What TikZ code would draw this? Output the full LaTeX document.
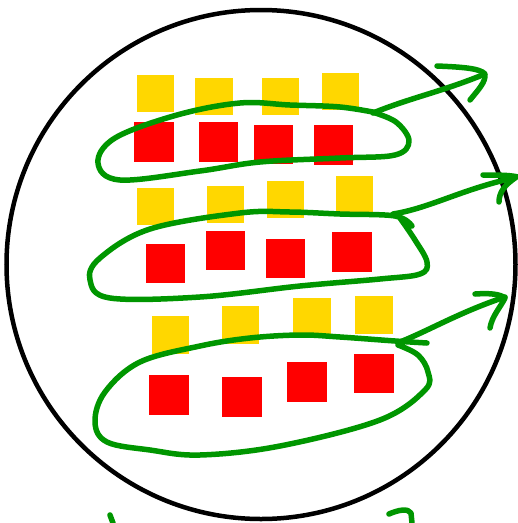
\documentclass[tikz,border=0pt]{standalone}
\usepackage{tikz}
\definecolor{pen}{RGB}{0,150,0}
\definecolor{gold}{RGB}{255,215,0}
\definecolor{redsq}{RGB}{255,0,0}
\tikzset{
  ysq/.style={fill=gold},
  rsq/.style={fill=redsq},
  greenpen/.style={draw=pen,line width=5.5pt,line cap=round,line join=round},
  ring/.style={draw=black,line width=4.5pt}
}
\begin{document}
\begin{tikzpicture}[x=1pt,y=-1pt]
\useasboundingbox (0,0) rectangle (518,523);
% circle
\draw[ring] (261,264.5) circle[radius=254.5];
% row 1
\fill[ysq] (137,75) rectangle (174,112);
\fill[ysq] (195,78) rectangle (233,115);
\fill[ysq] (262,78) rectangle (299,115);
\fill[ysq] (322,73) rectangle (359,110);
\fill[rsq] (134,122) rectangle (174,162);
\fill[rsq] (199,122) rectangle (238,162);
\fill[rsq] (254,125) rectangle (293,164);
\fill[rsq] (314,125) rectangle (353,165);
% row 2
\fill[ysq] (137,188) rectangle (174,225);
\fill[ysq] (207,186) rectangle (244,223);
\fill[ysq] (267,181) rectangle (304,218);
\fill[ysq] (336,176) rectangle (373,213);
\fill[rsq] (146,244) rectangle (185,283);
\fill[rsq] (206,231) rectangle (245,270);
\fill[rsq] (266,239) rectangle (305,278);
\fill[rsq] (332,232) rectangle (372,272);
% row 3
\fill[ysq] (152,316) rectangle (189,354);
\fill[ysq] (222,306) rectangle (259,344);
\fill[ysq] (293,298) rectangle (331,335);
\fill[ysq] (355,296) rectangle (393,334);
\fill[rsq] (149,375) rectangle (189,415);
\fill[rsq] (222,377) rectangle (262,417);
\fill[rsq] (287,362) rectangle (327,402);
\fill[rsq] (354,354) rectangle (394,393);
% loop 1
\draw[greenpen] plot[smooth,tension=0.6] coordinates {(378,113) (340,107) (290,105) (240,103) (177,115) (115,138) (98,163) (120,180) (200,171) (260,162) (340,158) (395,155) (409,141) (396,122) (372,112)};
\draw[greenpen] (373,113) .. controls (410,98) and (440,92) .. (480,76);
\draw[greenpen] (437,66) .. controls (460,67) and (480,68) .. (485,74) .. controls (486,82) and (478,90) .. (470,100);
% loop 2
\draw[greenpen] plot[smooth,tension=0.6] coordinates {(412,226) (395,216) (340,214) (290,212) (240,213) (150,229) (100,258) (90,280) (110,298) (200,297) (300,286) (380,279) (420,274) (427,262) (415,240) (400,218)};
\draw[greenpen] (393,214) .. controls (430,208) and (460,190) .. (513,178);
\draw[greenpen] (483,175) .. controls (495,175) and (510,175) .. (518,177);
\draw[greenpen] (515,178) .. controls (505,185) and (499,192) .. (499,202);
% loop 3
\draw[greenpen] plot[smooth,tension=0.6] coordinates {(427,343) (395,341) (340,337) (300,335) (250,338) (200,346) (140,362) (105,392) (95,422) (107,442) (150,450) (200,455) (280,446) (380,420) (425,390) (428,372) (418,355) (398,345)};
\draw[greenpen] (400,342) .. controls (430,330) and (460,312) .. (505,297);
\draw[greenpen] (475,294) .. controls (490,293) and (500,294) .. (505,298) .. controls (500,308) and (492,316) .. (490,328);
% bottom marks
\draw[greenpen] (110,515) -- (113,523);
\draw[greenpen] (389,514) .. controls (398,510) and (408,508) .. (411,513) -- (412,523);
\end{tikzpicture}
\end{document}
